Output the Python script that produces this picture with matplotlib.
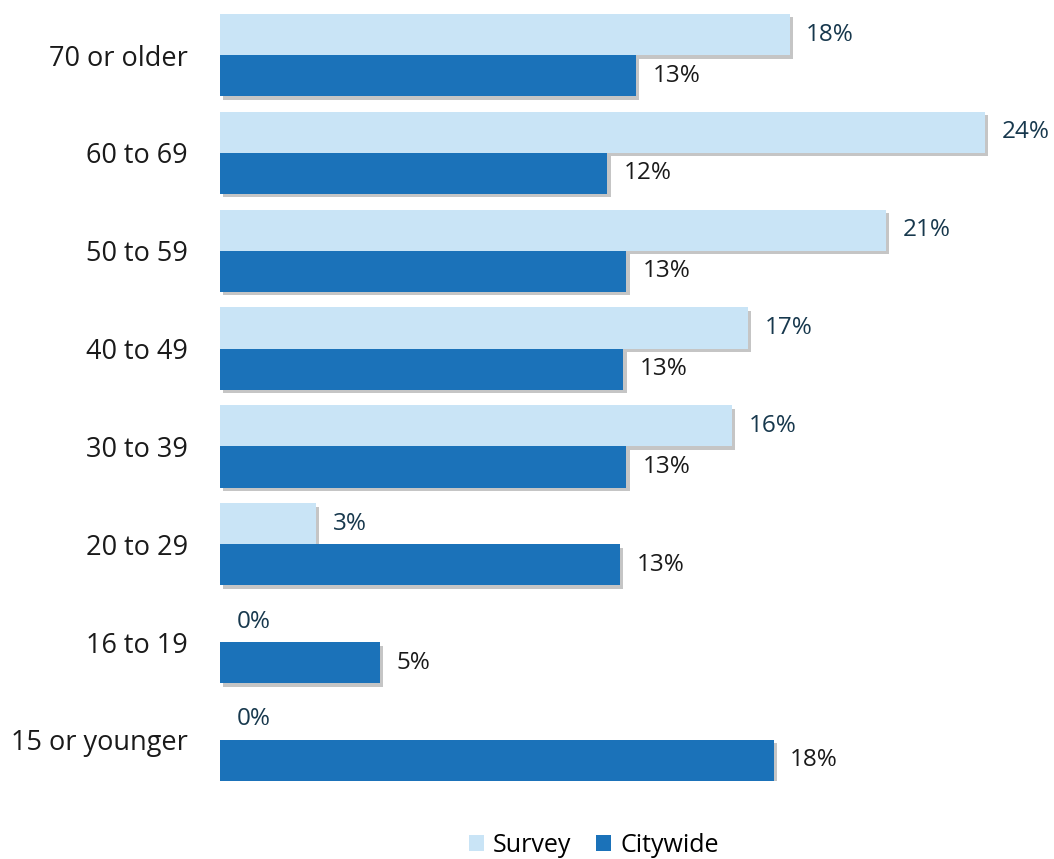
import matplotlib
matplotlib.use("Agg")
import matplotlib.pyplot as plt
import matplotlib.patheffects as pe
from matplotlib.patches import Patch
import numpy as np

plt.rcParams["font.family"] = ["Open Sans", "DejaVu Sans"]

# ── data (top to bottom) ──
categories = ["70 or older", "60 to 69", "50 to 59", "40 to 49",
              "30 to 39", "20 to 29", "16 to 19", "15 or younger"]
survey    = [17.8, 23.9, 20.8, 16.5, 16.0, 3.0, 0.0, 0.0]
citywide  = [13.0, 12.1, 12.7, 12.6, 12.7, 12.5, 5.0, 17.3]
survey_labels   = ["18%", "24%", "21%", "17%", "16%", "3%", "0%", "0%"]
citywide_labels = ["13%", "12%", "13%", "13%", "13%", "13%", "5%", "18%"]

C_SURVEY = "#c9e4f6"
C_CITY   = "#1b72b9"

fig = plt.figure(figsize=(10.54, 8.59), dpi=100)
ax = fig.add_axes([220 / 1054, 78 / 859, 834 / 1054, 767 / 859])

n = len(categories)
pos = np.arange(n)[::-1]   # top category gets highest y
h = 0.42

shadow = [pe.SimplePatchShadow(offset=(2.5, -2.5), shadow_rgbFace="#808080", alpha=0.45),
          pe.Normal()]

b1 = ax.barh(pos + h / 2, survey, height=h, color=C_SURVEY, linewidth=0)
b2 = ax.barh(pos - h / 2, citywide, height=h, color=C_CITY, linewidth=0)
for bar, v in zip(list(b1) + list(b2), survey + citywide):
    if v > 0:
        bar.set_path_effects(shadow)

for y, v, lab in zip(pos, survey, survey_labels):
    ax.annotate(lab, (v, y + h / 2), xytext=(12, 0), textcoords="offset points",
                va="center", ha="left", fontsize=17.5, color="#17384d")
for y, v, lab in zip(pos, citywide, citywide_labels):
    ax.annotate(lab, (v, y - h / 2), xytext=(12, 0), textcoords="offset points",
                va="center", ha="left", fontsize=17.5, color="#1a1a1a")

ax.set_yticks(pos)
ax.set_yticklabels(categories, fontsize=19.5, color="#1a1a1a")
ax.tick_params(axis="y", length=0, pad=23)
ax.set_xticks([])
ax.set_xlim(0, 834 / 32)
ax.set_ylim(-h, n - 1 + h)
for s in ax.spines.values():
    s.set_visible(False)

handles = [Patch(facecolor=C_SURVEY, label="Survey"),
           Patch(facecolor=C_CITY, label="Citywide")]
fig.legend(handles=handles, loc="center", bbox_to_anchor=(594 / 1054, 1 - 845 / 859),
           ncol=2, frameon=False, fontsize=18, handlelength=0.6, handleheight=0.6,
           handletextpad=0.35, columnspacing=1.0)

fig.savefig("out.png", dpi=100)
